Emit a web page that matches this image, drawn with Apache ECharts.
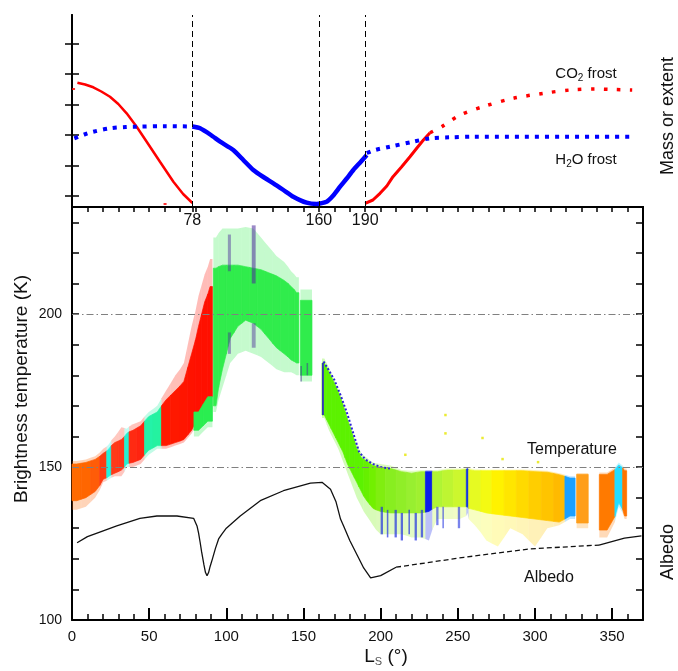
<!DOCTYPE html>
<html>
<head>
<meta charset="utf-8">
<script src="https://cdn.jsdelivr.net/npm/echarts@6.0.0/dist/echarts.min.js"></script>
<style>
  html, body { margin: 0; padding: 0; background: #fff; }
  #chart { width: 678px; height: 671px; }
</style>
</head>
<body>
<div id="chart"></div>
<script>
// ---- top panel: frost mass / extent (arbitrary units) vs Ls ----
var co2Ls1 = [3.5, 8.5, 13.8, 19, 24.6, 30, 35.4, 41.9, 48.4, 57, 65.7, 72, 78];
var co2Val1 = [124.3, 122.5, 119.7, 115.5, 110.3, 103, 93.7, 80.3, 65.3, 45.3, 25.3, 13, 4];
var co2Ls2 = [190, 195, 199.6, 204, 208, 213.5, 219, 223.5, 227.7, 232];
var co2Val2 = [3.7, 7, 13.7, 21, 30.3, 40, 50.3, 59, 67, 74.3];
var co2LsDot = [232, 239.6, 251.5, 267.7, 286, 305.5, 322.7, 339, 350, 363];
var co2ValDot = [74.3, 80.3, 92, 101, 108.7, 113.7, 117, 118, 117.5, 117];
var co2Stray = [[1, 118], [60.3, 3]];

var h2oLsDot1 = [1.5, 8, 13.8, 24.6, 35, 42, 60, 78];
var h2oValDot1 = [68.7, 72.5, 75.3, 78.7, 80, 80.3, 80.8, 80.5];
var h2oLs = [78, 83, 90, 96, 104.5, 111, 117.5, 124, 130.5, 137, 143.4, 152, 158.6, 165, 169, 173.7, 178, 182.3, 187, 191];
var h2oVal = [80.5, 78.7, 72, 65.3, 57, 47, 37, 30, 23.7, 17, 10.3, 4.3, 3, 5.3, 11, 20.3, 28.5, 37, 45, 52];
var h2oLsDot2 = [191, 196.4, 206, 221, 232, 245, 260, 363];
var h2oValDot2 = [54, 57, 60.3, 65.3, 68.7, 69.7, 70.3, 70.3];

var frostLines = [78, 160, 190];
var topTicks = [11, 41.5, 72, 102.5, 133, 163.5];

// ---- bottom panel: brightness temperature strips (K) ----
var segStart = [0, 6, 12, 18, 22.5, 25.5, 30, 34, 37, 42, 47, 52.5, 58, 64, 70, 75, 80, 84, 88, 79, 85,
  91.6, 95, 100, 105, 110, 115, 120, 125, 130, 135, 140, 144, 148,
  162, 165, 168, 171, 174, 177, 180, 183, 186, 189, 193, 197, 203, 210, 217, 223, 229, 233.5, 240, 247,
  255.5, 257, 265, 272, 280, 288, 296, 304, 312, 319.4, 327, 341.7, 351.8, 356.8];
var segEnd = [6, 12, 18, 22.5, 25.5, 30, 34, 37, 42, 47, 52.5, 58, 64, 70, 75, 80, 84, 88, 91, 85, 91,
  95, 100, 105, 110, 115, 120, 125, 130, 135, 140, 144, 147, 155.5,
  165, 168, 171, 174, 177, 180, 183, 186, 189, 193, 197, 203, 210, 217, 223, 229, 233.5, 240, 247, 255.5,
  257, 265, 272, 280, 288, 296, 304, 312, 319.4, 326, 334.5, 351.8, 356.8, 359.4];
var coreLow = [139, 140, 142, 146, 147, 148, 149, 151, 151.5, 152.5, 155.5, 157, 157, 158, 159, 162, 167, 171, 173, 162, 165,
  170, 182, 192, 196, 198, 197, 195, 192, 189, 187, 185, 184, 180,
  167, 164, 161, 158, 155, 151, 148, 145, 142, 139, 136.5, 135.5, 135, 135, 135, 135, 135.5, 137, 137, 137,
  137, 136, 135, 134.5, 134, 133.5, 133, 132.5, 132, 134, 131.7, 129.4, 138.3, 134];
var coreHigh = [151, 151.5, 152.5, 154.5, 156, 158, 159, 161, 162, 163.5, 166.5, 168, 172, 175, 178, 187, 196, 204, 209, 168, 173,
  215, 216, 216, 216, 215.5, 215, 214.5, 213.5, 212.5, 211, 209, 207, 204.5,
  184, 181, 178, 174.5, 170.5, 165.5, 161, 156, 153, 152, 150.5, 150, 149.5, 148.5, 148, 148.5, 148.5, 148.5, 149, 149,
  149.5, 148.8, 148.8, 148.8, 148.8, 148.8, 148.5, 148.3, 147.5, 146.4, 147.6, 147.6, 150.7, 148.8];
var haloLow = [136, 137, 140, 145, 146, 147, 147, 150, 150, 151, 154, 156, 156, 157, 158, 161, 165, 167, 169, 160, 163,
  168, 176, 184, 187, 188, 187, 186, 184, 182, 181, 181, 180, 178,
  166, 162, 159, 156, 152, 148, 144, 140, 137, 134, 131, 128, 128, 128, 127, 127, 126, 133, 133, 133,
  135, 131, 126, 124, 130, 128, 124, 130, 131, 133, 130, 127, 137, 133];
var haloHigh = [152, 152.5, 153.5, 156, 157.5, 160, 163, 162.5, 164, 165, 168, 170, 175, 180, 184, 196, 206, 213, 218, 170, 175,
  225, 228, 228, 228, 228.5, 228, 225, 222, 219, 217, 214, 212, 208,
  185.5, 182.5, 179, 175.5, 171.5, 166.5, 162, 157.5, 154.5, 153, 151.5, 151, 150.5, 149, 148.8, 149, 149, 149, 149.5, 149.5,
  150, 149.3, 149.2, 149.2, 149.2, 149.2, 149, 148.8, 148, 147, 148, 148.2, 151.5, 149.5];
var segColor = ['#ff6a00', '#ff6600', '#ff5c08', '#ff3c12', '#24f0dc', '#ff3a18', '#ff3418', '#24f0d0', '#ff2a12', '#ff2410',
  '#24f2a8', '#24f2a0', '#ff1a00', '#ff1800', '#ff1500', '#ff1200', '#ff1000', '#ff1000', '#ff1000', '#2aee50', '#2aee50',
  '#30ec4c', '#30ec4c', '#30ec4c', '#30ec4c', '#30ec4c', '#30ec4c', '#30ec4c', '#30ec4c', '#30ec4c', '#30ec4c', '#30ec4c', '#30ec4c', '#30ec4c',
  '#5cf200', '#5cf200', '#5cf200', '#5cf200', '#5cf200', '#5cf200', '#5cf200', '#5cf200', '#5cf200', '#66f000',
  '#72f000', '#80ee10', '#88ee20', '#90ee28', '#98ef30', '#a0f030', '#0a1eea', '#b0f535', '#bef532', '#ccf72e',
  '#1535e0', '#e6fa22', '#f4fa12', '#fff200', '#ffe600', '#ffda00', '#ffce00', '#ffc400', '#ffba00', '#1aa0ff',
  '#ff9e1a', '#ff7a00', '#22dcff', '#ff7400'];

// speckles of other colours on top of the strips
var specStart = [101, 101, 116.5, 116.5, 162, 200, 204, 209, 213, 218, 222, 226, 236, 240, 250, 148, 152];
var specEnd = [103, 103, 119, 119, 163.2, 201.5, 205, 210.5, 214.5, 219, 223.5, 227.5, 237.5, 241, 251.5, 149, 153];
var specLow = [214, 187, 210, 189, 167, 128, 127, 127, 126, 128, 126, 127, 131, 130, 130, 178, 180];
var specHigh = [226, 194, 229, 197, 184, 137, 136, 136, 135, 136, 135, 136, 137, 137, 137, 183, 184];
var specColor = ['#4a2a9a', '#4a2a9a', '#4a2a9a', '#4a2a9a', '#3020d0', '#2030e0', '#2030e0', '#2030e0', '#2030e0', '#2030e0',
  '#2030e0', '#2030e0', '#2030e0', '#2030e0', '#2030e0', '#4a2a9a', '#4a2a9a'];
var specOpacity = [0.45, 0.45, 0.55, 0.45, 0.9, 0.7, 0.7, 0.7, 0.7, 0.7, 0.7, 0.7, 0.6, 0.6, 0.6, 0.5, 0.5];

// blue rim on the falling edge after Ls 160
var edgeLs = [163, 166, 170, 174, 178, 182, 186, 190, 195, 200, 206];
var edgeT = [184.5, 182, 178.5, 173.5, 168, 161.5, 155, 152.5, 151, 150, 149.5];

// isolated warm points
var strayDots = [[216, 154], [242, 161], [242, 167], [266, 159.5], [279, 152.6], [302, 151.6]];

// ---- albedo (right axis) ----
var albedoLs = [3.3, 10, 18, 29, 44, 55, 68, 78.8, 80, 81, 82, 83, 84, 85.5, 86.5, 87.5, 88.5, 89.5, 91, 93, 95, 97, 100,
  109, 122, 137, 154.5, 162, 167.5, 171, 174, 176, 180, 185, 189, 193.5, 200, 210];
var albedoVal = [0.101, 0.109, 0.115, 0.123, 0.133, 0.136, 0.136, 0.133, 0.131, 0.123, 0.114, 0.102, 0.089, 0.072, 0.062, 0.058,
  0.062, 0.070, 0.080, 0.094, 0.106, 0.112, 0.120, 0.136, 0.156, 0.169, 0.179, 0.180, 0.171, 0.155, 0.132, 0.123, 0.104, 0.084,
  0.068, 0.055, 0.058, 0.069];
var albedoLsGap = [210, 254, 297, 341.5];
var albedoValGap = [0.069, 0.082, 0.093, 0.098];
var albedoLsEnd = [341.5, 358, 369];
var albedoValEnd = [0.098, 0.107, 0.110];

var xMajor = [0, 50, 100, 150, 200, 250, 300, 350];
var tempLabels = [100, 150, 200];

function zip(a, b) { return a.map(function (v, i) { return [v, b[i]]; }); }
function range(a, b, step, skip) {
  var out = [];
  for (var v = a; v <= b; v += step) { if (!skip || v % skip !== 0) out.push(v); }
  return out;
}

var FONT = 'Liberation Sans, Arial, sans-serif';
var chart = echarts.init(document.getElementById('chart'), null, { renderer: 'canvas' });

var bandIdx = segStart.map(function (s, i) { return [s, segEnd[i], i]; });
var specData = specStart.map(function (s, i) { return [s, specEnd[i], specLow[i], specHigh[i]]; });

// strip drawn as a polygon whose edges meet the neighbouring strip half way
function bandPoly(lo, hi, opacity, stroke) {
  return function (params, api) {
    var i = params.dataIndex;
    var s = segStart[i], e = segEnd[i], m = (s + e) / 2;
    var p = (i > 0 && segEnd[i - 1] === s) ? i - 1 : i;
    var n = (i < segStart.length - 1 && segStart[i + 1] === e) ? i + 1 : i;
    var pts = [
      api.coord([s, (hi[p] + hi[i]) / 2]), api.coord([m, hi[i]]), api.coord([e, (hi[n] + hi[i]) / 2]),
      api.coord([e, (lo[n] + lo[i]) / 2]), api.coord([m, lo[i]]), api.coord([s, (lo[p] + lo[i]) / 2])
    ];
    var style = { fill: segColor[i], opacity: opacity };
    if (stroke) { style.stroke = segColor[i]; style.lineWidth = 0.7; }
    return { type: 'polygon', shape: { points: pts }, style: style };
  };
}

function specRect(params, api) {
  var a = api.coord([api.value(0), api.value(3)]);
  var b = api.coord([api.value(1), api.value(2)]);
  return {
    type: 'rect',
    shape: { x: a[0], y: a[1], width: Math.max(b[0] - a[0], 1.5), height: b[1] - a[1] },
    style: { fill: specColor[params.dataIndex], opacity: specOpacity[params.dataIndex] }
  };
}

var axisBlack = { show: true, lineStyle: { color: '#000', width: 2 } };
var tickStyle = { color: '#000', width: 1.5 };
var bottomRect = { left: 72, right: 35, top: 207, bottom: 51 };

var option = {
  animation: false,
  backgroundColor: '#fff',
  textStyle: { fontFamily: FONT },
  grid: [
    { left: 72, right: 35, top: 15, height: 192 },
    bottomRect,
    Object.assign({}, bottomRect)   // carries the minor Ls ticks only
  ],
  xAxis: [
    { gridIndex: 0, type: 'value', position: 'bottom', min: 0, max: 370,
      axisLine: axisBlack, splitLine: { show: false },
      axisTick: { customValues: frostLines, inside: false, length: 5, lineStyle: tickStyle },
      axisLabel: { customValues: frostLines, margin: 6, fontSize: 16, color: '#111', fontFamily: FONT } },
    { gridIndex: 0, type: 'value', position: 'top', min: 0, max: 370,
      axisLine: axisBlack, splitLine: { show: false },
      axisTick: { customValues: range(10, 360, 10), inside: true, length: 5, lineStyle: tickStyle },
      axisLabel: { show: false } },
    { gridIndex: 1, type: 'value', position: 'bottom', min: 0, max: 370,
      axisLine: axisBlack, splitLine: { show: false },
      axisTick: { customValues: xMajor.slice(1), inside: true, length: 12, lineStyle: { color: '#000', width: 2 } },
      axisLabel: { customValues: xMajor, margin: 9, fontSize: 15, color: '#111', fontFamily: FONT } },
    { gridIndex: 2, type: 'value', position: 'bottom', min: 0, max: 370,
      axisLine: { show: false }, splitLine: { show: false },
      axisTick: { customValues: range(10, 360, 10, 50), inside: true, length: 6, lineStyle: tickStyle },
      axisLabel: { show: false } }
  ],
  yAxis: [
    { gridIndex: 0, type: 'value', position: 'left', min: 0, max: 192,
      axisLine: axisBlack, splitLine: { show: false },
      axisTick: { customValues: topTicks, inside: true, length: 7, lineStyle: tickStyle },
      axisLabel: { show: false } },
    { gridIndex: 0, type: 'value', position: 'right', min: 0, max: 192,
      axisLine: axisBlack, splitLine: { show: false },
      axisTick: { customValues: topTicks, inside: true, length: 7, lineStyle: tickStyle },
      axisLabel: { show: false } },
    { gridIndex: 1, type: 'value', position: 'left', min: 100, max: 235,
      axisLine: axisBlack, splitLine: { show: false },
      axisTick: { customValues: range(110, 230, 10), inside: true, length: 7, lineStyle: tickStyle },
      axisLabel: { customValues: tempLabels, margin: 10, fontSize: 14, color: '#111', fontFamily: FONT } },
    { gridIndex: 1, type: 'value', position: 'right', min: 0, max: 0.54,
      axisLine: axisBlack, splitLine: { show: false },
      axisTick: { customValues: range(4, 52, 4).map(function (v) { return v / 100; }), inside: true, length: 7,
        lineStyle: tickStyle },
      axisLabel: { show: false } },
    { gridIndex: 2, type: 'value', show: false, min: 1, max: 2 }
  ],
  series: [
    // top panel
    { name: 'CO2 frost', type: 'line', xAxisIndex: 0, yAxisIndex: 0, data: zip(co2Ls1, co2Val1),
      showSymbol: false, lineStyle: { color: '#ff0000', width: 2.5 },
      markLine: { silent: true, symbol: 'none', label: { show: false },
        lineStyle: { color: '#000', width: 1, type: [6, 4] },
        data: frostLines.map(function (v) { return { xAxis: v }; }) } },
    { name: 'CO2 frost 2', type: 'line', xAxisIndex: 0, yAxisIndex: 0, data: zip(co2Ls2, co2Val2),
      showSymbol: false, lineStyle: { color: '#ff0000', width: 3 } },
    { name: 'CO2 frost model', type: 'line', xAxisIndex: 0, yAxisIndex: 0, data: zip(co2LsDot, co2ValDot),
      showSymbol: false, smooth: 0.3, lineStyle: { color: '#ff0000', width: 3.5, type: [3.5, 9.5] } },
    { name: 'CO2 stray', type: 'scatter', xAxisIndex: 0, yAxisIndex: 0, data: co2Stray,
      symbol: 'rect', symbolSize: [3, 2], itemStyle: { color: '#ff0000' } },
    { name: 'H2O frost model', type: 'line', xAxisIndex: 0, yAxisIndex: 0, data: zip(h2oLsDot1, h2oValDot1),
      showSymbol: false, smooth: 0.3, lineStyle: { color: '#0000ff', width: 4, type: [4, 6] } },
    { name: 'H2O frost', type: 'line', xAxisIndex: 0, yAxisIndex: 0, data: zip(h2oLs, h2oVal),
      showSymbol: false, smooth: 0.2, lineStyle: { color: '#0000ff', width: 4.5 } },
    { name: 'H2O frost model 2', type: 'line', xAxisIndex: 0, yAxisIndex: 0, data: zip(h2oLsDot2, h2oValDot2),
      showSymbol: false, smooth: 0.3, lineStyle: { color: '#0000ff', width: 4, type: [4, 6] } },

    // bottom panel
    { name: 'Tb sparse', type: 'custom', xAxisIndex: 2, yAxisIndex: 2, data: bandIdx,
      renderItem: bandPoly(haloLow, haloHigh, 0.28, false),
      markLine: { silent: true, symbol: 'none', label: { show: false },
        lineStyle: { color: '#808080', width: 1, type: [7, 3, 1.5, 3] },
        data: [{ yAxis: 150 }, { yAxis: 200 }] } },
    { name: 'Tb', type: 'custom', xAxisIndex: 2, yAxisIndex: 2, data: bandIdx,
      renderItem: bandPoly(coreLow, coreHigh, 1, true) },
    { name: 'Tb speckles', type: 'custom', xAxisIndex: 2, yAxisIndex: 2, data: specData,
      renderItem: specRect },
    { name: 'Tb rim', type: 'line', xAxisIndex: 2, yAxisIndex: 2, data: zip(edgeLs, edgeT),
      showSymbol: false, lineStyle: { color: '#2a20d8', width: 2, type: [2, 2] } },
    { name: 'Tb stray', type: 'scatter', xAxisIndex: 2, yAxisIndex: 2, data: strayDots,
      symbol: 'rect', symbolSize: 2.5, itemStyle: { color: '#e6e600' } },
    { name: 'Albedo', type: 'line', xAxisIndex: 2, yAxisIndex: 3, data: zip(albedoLs, albedoVal),
      showSymbol: false, lineStyle: { color: '#111', width: 1.3 } },
    { name: 'Albedo gap', type: 'line', xAxisIndex: 2, yAxisIndex: 3, data: zip(albedoLsGap, albedoValGap),
      showSymbol: false, lineStyle: { color: '#111', width: 1.3, type: [5, 3] } },
    { name: 'Albedo end', type: 'line', xAxisIndex: 2, yAxisIndex: 3, data: zip(albedoLsEnd, albedoValEnd),
      showSymbol: false, lineStyle: { color: '#111', width: 1.3 } }
  ],
  graphic: [
    { type: 'text', x: 586, y: 74, style: { text: '{a|CO}{s|2}{a| frost}', align: 'center', verticalAlign: 'middle',
      rich: { a: { fontSize: 15, fontFamily: FONT, fill: '#111' }, s: { fontSize: 10, fontFamily: FONT, fill: '#111', padding: [9, 0, 0, 0] } } } },
    { type: 'text', x: 586, y: 160, style: { text: '{a|H}{s|2}{a|O frost}', align: 'center', verticalAlign: 'middle',
      rich: { a: { fontSize: 15, fontFamily: FONT, fill: '#111' }, s: { fontSize: 10, fontFamily: FONT, fill: '#111', padding: [9, 0, 0, 0] } } } },
    { type: 'text', x: 572, y: 450, style: { text: 'Temperature', fontSize: 16, fontFamily: FONT, fill: '#111', align: 'center', verticalAlign: 'middle' } },
    { type: 'text', x: 549, y: 578, style: { text: 'Albedo', fontSize: 16, fontFamily: FONT, fill: '#111', align: 'center', verticalAlign: 'middle' } },
    { type: 'text', x: 22, y: 389, rotation: Math.PI / 2, style: { text: 'Brightness temperature (K)', fontSize: 19, fontFamily: FONT, fill: '#111', align: 'center', verticalAlign: 'middle' } },
    { type: 'text', x: 668, y: 116, rotation: Math.PI / 2, style: { text: 'Mass or extent', fontSize: 18, fontFamily: FONT, fill: '#111', align: 'center', verticalAlign: 'middle' } },
    { type: 'text', x: 668, y: 552, rotation: Math.PI / 2, style: { text: 'Albedo', fontSize: 18, fontFamily: FONT, fill: '#111', align: 'center', verticalAlign: 'middle' } },
    { type: 'text', x: 386, y: 657, style: { text: '{a|L}{s|S}{a| (°)}', align: 'center', verticalAlign: 'middle',
      rich: { a: { fontSize: 19, fontFamily: FONT, fill: '#111' }, s: { fontSize: 11, fontFamily: FONT, fill: '#555', padding: [10, 0, 0, 0] } } } }
  ]
};

chart.setOption(option);
</script>
</body>
</html>
